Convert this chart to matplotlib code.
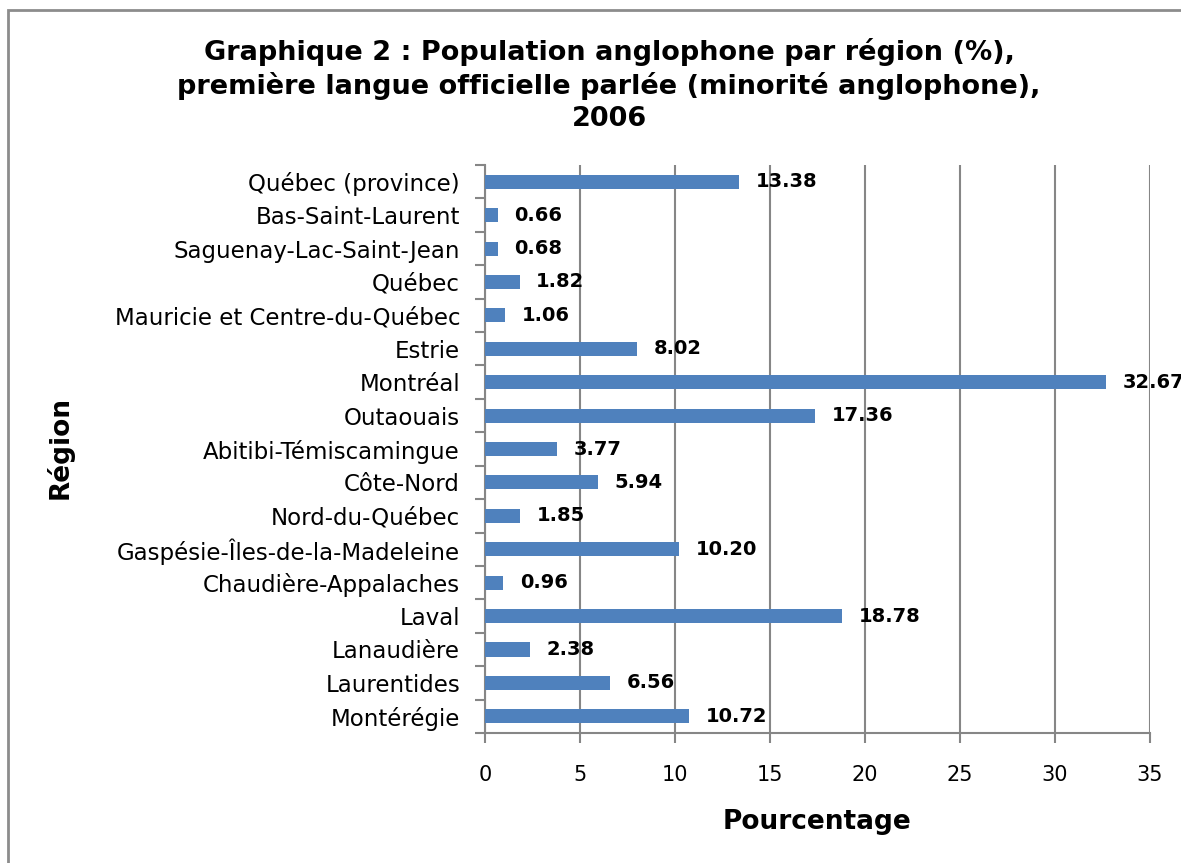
import matplotlib.pyplot as plt
from matplotlib.patches import Rectangle
from matplotlib.ticker import FixedLocator

regions = [
    "Québec (province)", "Bas-Saint-Laurent", "Saguenay-Lac-Saint-Jean", "Québec",
    "Mauricie et Centre-du-Québec", "Estrie", "Montréal", "Outaouais",
    "Abitibi-Témiscamingue", "Côte-Nord", "Nord-du-Québec",
    "Gaspésie-Îles-de-la-Madeleine", "Chaudière-Appalaches", "Laval",
    "Lanaudière", "Laurentides", "Montérégie",
]
percent = [13.38, 0.66, 0.68, 1.82, 1.06, 8.02, 32.67, 17.36, 3.77, 5.94,
           1.85, 10.20, 0.96, 18.78, 2.38, 6.56, 10.72]
xticks = [0, 5, 10, 15, 20, 25, 30, 35]

plt.rcParams['font.family'] = ['DejaVu Sans']
GRAY = "#868686"

fig = plt.figure(figsize=(11.81, 8.63), dpi=100)
ax = fig.add_axes([0.4107, 0.1506, 0.5631, 0.6582])

pos = list(range(len(regions)))
ax.barh(pos, percent, height=0.42, color="#4F81BD", zorder=3)
ax.set_ylim(len(regions) - 0.5, -0.5)
ax.set_xlim(0, 35)

ax.set_yticks(pos)
ax.set_yticklabels(regions, fontsize=16.5)
ax.yaxis.set_minor_locator(FixedLocator([p - 0.5 for p in pos] + [len(pos) - 0.5]))
ax.tick_params(axis="y", which="major", length=0, pad=18)
ax.tick_params(axis="y", which="minor", length=7, width=1.5, color=GRAY, direction="out")

ax.set_xticks(xticks)
ax.set_xticklabels([str(t) for t in xticks], fontsize=15)
ax.tick_params(axis="x", length=7, width=1.5, color=GRAY, direction="out", pad=16)

ax.grid(axis="x", color=GRAY, linewidth=1.5, zorder=0)
for s in ["top", "right"]:
    ax.spines[s].set_visible(False)
for s in ["left", "bottom"]:
    ax.spines[s].set_color(GRAY)
    ax.spines[s].set_linewidth(1.5)

# value labels; the last one runs past the right edge like in the source
for p, v in zip(pos, percent):
    ax.annotate(f"{v:.2f}", (v, p), xytext=(12, 0), textcoords="offset points",
                ha="left", va="center", fontsize=14, fontweight="bold",
                annotation_clip=False, zorder=4)

fig.text(817 / 1181, 1 - 822 / 863, "Pourcentage", fontsize=19, fontweight="bold",
         ha="center", va="center")
fig.text(60 / 1181, 1 - 447 / 863, "Région", rotation=90, fontsize=19,
         fontweight="bold", ha="center", va="center")

fig.text(609 / 1181, 1 - 85 / 863,
         "Graphique 2 : Population anglophone par région (%),\n"
         "première langue officielle parlée (minorité anglophone),\n2006",
         ha="center", va="center", fontsize=19.5, fontweight="bold", linespacing=1.3)

fig.patches.append(Rectangle((8 / 1181, -0.1), 2, 1.1 - 10 / 863,
                             transform=fig.transFigure, fill=False,
                             edgecolor="#8c8c8c", linewidth=2))

fig.savefig("out.png", dpi=100)
